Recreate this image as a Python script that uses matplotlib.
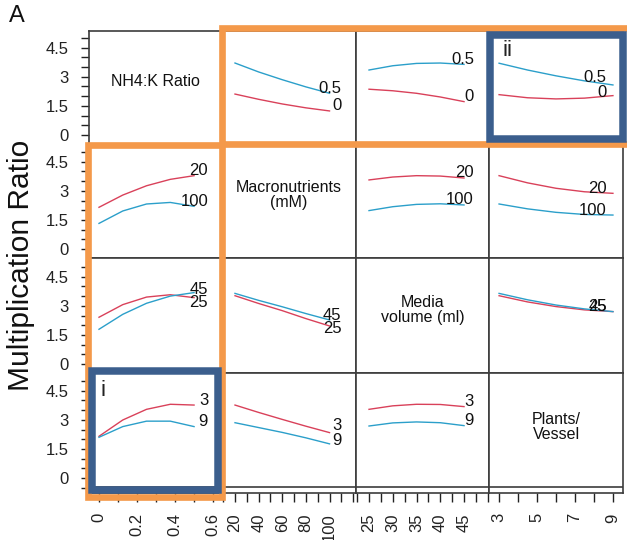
import numpy as np
import matplotlib.pyplot as plt
from matplotlib.patches import Rectangle
from matplotlib.ticker import MultipleLocator, FixedLocator

plt.rcParams['font.family'] = ['Liberation Sans', 'DejaVu Sans']

# factors of the profiler
names = ["NH4:K Ratio", "Macronutrients\n(mM)", "Media\nvolume (ml)", "Plants/\nVessel"]
levels = [["0", "0.5"], ["20", "100"], ["25", "45"], ["3", "9"]]
xs = [[0, 0.125, 0.25, 0.375, 0.5],
      [20, 40, 60, 80, 100],
      [25, 30, 35, 40, 45],
      [3, 4.5, 6, 7.5, 9]]

# (row factor, column factor) -> (low level, high level) multiplication ratio
resp = {
    (0, 1): ([2.11, 1.84, 1.60, 1.40, 1.24], [3.71, 3.25, 2.85, 2.48, 2.15]),
    (0, 2): ([2.36, 2.28, 2.15, 1.96, 1.72], [3.35, 3.57, 3.69, 3.71, 3.64]),
    (0, 3): ([2.08, 1.92, 1.86, 1.90, 2.03], [3.70, 3.35, 3.05, 2.79, 2.58]),
    (1, 0): ([2.15, 2.78, 3.26, 3.59, 3.78], [1.32, 1.96, 2.32, 2.40, 2.20]),
    (1, 2): ([3.56, 3.71, 3.78, 3.76, 3.66], [1.98, 2.18, 2.30, 2.33, 2.27]),
    (1, 3): ([3.78, 3.41, 3.13, 2.95, 2.87], [2.32, 2.07, 1.89, 1.78, 1.75]),
    (2, 0): ([2.41, 3.06, 3.45, 3.57, 3.42], [1.79, 2.56, 3.13, 3.50, 3.68]),
    (2, 1): ([3.52, 3.12, 2.75, 2.34, 1.96], [3.64, 3.28, 2.95, 2.60, 2.27]),
    (2, 3): ([3.52, 3.20, 2.96, 2.79, 2.70], [3.64, 3.31, 3.04, 2.84, 2.70]),
    (3, 0): ([2.15, 2.99, 3.54, 3.80, 3.76], [2.10, 2.65, 2.93, 2.93, 2.65]),
    (3, 1): ([3.76, 3.38, 3.02, 2.67, 2.34], [2.85, 2.60, 2.35, 2.07, 1.76]),
    (3, 2): ([3.54, 3.72, 3.80, 3.79, 3.68], [2.68, 2.84, 2.89, 2.85, 2.70]),
}

# x axis setup per column
xlims = [(-0.0526, 0.647), (9.0, 122.4), (22.26, 50.26), (2.47, 9.53)]
xmajor = [[0, 0.2, 0.4, 0.6], [20, 40, 60, 80, 100], [25, 30, 35, 40, 45], [3, 5, 7, 9]]
xminor = [0.1, 10, 2.5, 1]
xlab_right = [0.574, 110.0, 47.1, 8.68]
yticks = [0, 1.5, 3, 4.5]

# label nudges (pixels) where the two level labels would collide
nudge = {(0, 3): (3, 7), (2, 0): (-5, 3.5), (2, 1): (-3, 4.5), (3, 1): (7.5, 3.5)}

RED = '#d9415a'
BLUE = '#2b9fca'
ORANGE = '#f4994a'
NAVY = '#3b5e8d'
GRID = '#3c3c3c'

W, H = 627, 540
xe = [89, 222, 356, 489, 623]
ye = [31, 144, 258, 373, 487]
k = 19.4  # pixels per unit on the y axis

fig = plt.figure(figsize=(W / 100, H / 100), dpi=100)

for r in range(4):
    top = ye[r]
    bot = ye[r + 1] if r < 3 else 493
    zero = ye[r + 1] - 9
    for c in range(4):
        ax = fig.add_axes([xe[c] / W, 1 - bot / H, (xe[c + 1] - xe[c]) / W, (bot - top) / H])
        ax.set_xlim(*xlims[c])
        ax.set_ylim(-(bot - zero) / k, (zero - top) / k)
        for s in ax.spines.values():
            s.set_color(GRID)
            s.set_linewidth(1.2)
        ax.tick_params(which='both', colors='#222222', labelsize=12, length=5.8, width=1)

        if c == 0:
            ax.yaxis.set_major_locator(FixedLocator(yticks))
            ax.set_yticklabels(['0', '1.5', '3', '4.5'])
            ax.yaxis.set_minor_locator(MultipleLocator(0.5))
            ax.tick_params(axis='y', which='both', pad=9)
        else:
            ax.set_yticks([])

        if r == 3:
            ax.axhline(-9 / k, color=GRID, lw=1.2)
            ax.xaxis.set_major_locator(FixedLocator(xmajor[c]))
            ax.set_xticklabels([f'{v:g}' for v in xmajor[c]], rotation=90)
            ax.xaxis.set_minor_locator(MultipleLocator(xminor[c]))
            ax.tick_params(axis='x', which='both', length=6.5, pad=8)
        else:
            ax.set_xticks([])

        if r == c:
            ax.text(0.5, 0.55, names[r], transform=ax.transAxes, ha='center', va='center',
                    fontsize=11.5, color='#111111', linespacing=1.0, multialignment='center')
            continue

        lo, hi = resp[(r, c)]
        ax.plot(xs[c], lo, color=RED, lw=1.0)
        ax.plot(xs[c], hi, color=BLUE, lw=1.0)
        dlo, dhi = nudge.get((r, c), (5, 5))
        ax.annotate(levels[r][0], (xlab_right[c], lo[-1]), xytext=(0, dlo * 0.72),
                    textcoords='offset points', ha='right', va='center', fontsize=12, color='#111111')
        ax.annotate(levels[r][1], (xlab_right[c], hi[-1]), xytext=(0, dhi * 0.72),
                    textcoords='offset points', ha='right', va='center', fontsize=12, color='#111111')


def box(x0, y0, x1, y1, color, lw):
    fig.add_artist(Rectangle((x0 / W, 1 - y1 / H), (x1 - x0) / W, (y1 - y0) / H,
                             transform=fig.transFigure, fill=False, edgecolor=color,
                             linewidth=lw, joinstyle='miter', zorder=10, clip_on=False))


box(221.7, 28.3, 632, 144, ORANGE, 4.8)
box(88.3, 145, 221.7, 497, ORANGE, 4.8)
box(489.7, 35.3, 623.3, 138.8, NAVY, 5.4)
box(92, 371, 218, 489.7, NAVY, 5.4)

fig.text(502 / W, 1 - 40 / H, 'ii', fontsize=16, ha='left', va='top', color='#222222', zorder=11)
fig.text(100 / W, 1 - 380 / H, 'i', fontsize=16, ha='left', va='top', color='#222222', zorder=11)
fig.text(9 / W, 1 - 5 / H, 'A', fontsize=17, ha='left', va='top', color='#111111')
fig.text(21 / W, 1 - 265 / H, 'Multiplication Ratio', fontsize=21.5, rotation=90,
         ha='center', va='center', color='#111111')

fig.savefig('out.png', dpi=100)
